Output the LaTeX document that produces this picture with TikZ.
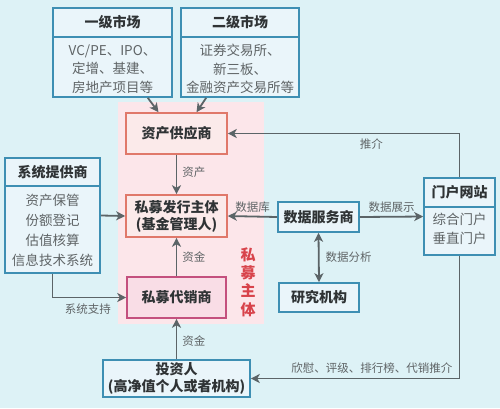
\documentclass[tikz,border=0pt]{standalone}
\usepackage{fontspec}
\setmainfont{Noto Sans CJK SC}
\usetikzlibrary{arrows.meta,calc}
\definecolor{bg}{HTML}{DDF2F6}
\definecolor{pinkbg}{HTML}{FCE6EA}
\definecolor{blueb}{HTML}{3E8FB3}
\definecolor{bluef}{HTML}{EAF5FA}
\definecolor{orangeb}{HTML}{E0786A}
\definecolor{orangef}{HTML}{FBEAEA}
\definecolor{magb}{HTML}{C4507E}
\definecolor{magf}{HTML}{F9DDE6}
\definecolor{arr}{HTML}{5B6467}
\definecolor{txt}{HTML}{2F3335}
\definecolor{txtl}{HTML}{5F6466}
\definecolor{redt}{HTML}{D8434B}
\begin{document}
\begin{tikzpicture}[x=1pt,y=-1pt,
  bbox/.style={draw=blueb, fill=bluef, line width=1.6pt, inner sep=0pt},
  obox/.style={draw=orangeb, fill=orangef, line width=1.6pt, inner sep=0pt, text=txt, font=\fontsize{14}{17}\selectfont\bfseries, align=center},
  mbox/.style={draw=magb, fill=magf, line width=1.6pt, inner sep=0pt, text=txt, font=\fontsize{14}{17}\selectfont\bfseries, align=center},
  sbox/.style={bbox, text=txt, font=\fontsize{14}{17}\selectfont\bfseries, align=center},
  hdr/.style={text=txt, font=\fontsize{14}{17}\selectfont\bfseries, inner sep=0pt},
  bodytxt/.style={text=txtl, font=\fontsize{13.5}{18.5}\selectfont, align=center, inner sep=0pt},
  lbl/.style={text=txtl, font=\fontsize{11.5}{14}\selectfont, inner sep=0pt},
  divline/.style={draw=blueb, line width=1.6pt},
  conn/.style={draw=arr, line width=1.8pt, -{Stealth[length=9pt,width=9pt,inset=2.5pt]}},
  conn2/.style={draw=arr, line width=1.8pt, {Stealth[length=9pt,width=9pt,inset=2.5pt]}-{Stealth[length=9pt,width=9pt,inset=2.5pt]}}
]
\useasboundingbox (0,0) rectangle (500,408);
\fill[bg] (0,0) rectangle (500,408);
\fill[pinkbg] (118,102) rectangle (264,324);

% markets
\node[bbox, minimum width=119pt, minimum height=89pt] (yiji) at (112.5,52.5) {};
\draw[divline] (yiji.west |- 0,37) -- (yiji.east |- 0,37);
\node[hdr] (yijiT) at (112.5,22) {一级市场};
\node[bodytxt] (yijiB) at (112.5,69) {VC/PE、IPO、\\定增、基建、\\房地产项目等};

\node[bbox, minimum width=118pt, minimum height=89pt] (erji) at (240,52.5) {};
\draw[divline] (erji.west |- 0,37) -- (erji.east |- 0,37);
\node[hdr] (erjiT) at (240,22) {二级市场};
\node[bodytxt] (erjiB) at (240,69) {证券交易所、\\新三板、\\金融资产交易所等};

% main column
\node[obox, minimum width=101pt, minimum height=41pt] (zichan) at (176.5,133.5) {资产供应商};
\node[obox, minimum width=101pt, minimum height=42pt] (faxing) at (176.5,216) {私募发行主体\\(基金管理人)};
\node[mbox, minimum width=99pt, minimum height=41pt] (daixiao) at (176.5,297.5) {私募代销商};
\node[sbox, minimum width=147pt, minimum height=37pt] (touzi) at (176.5,378.5) {投资人\\(高净值个人或者机构)};

\node[text=redt, font=\fontsize{15}{18.3}\selectfont\bfseries, align=center, inner sep=0pt] (simu) at (248,282) {私\\募\\主\\体};

% system provider
\node[bbox, minimum width=95pt, minimum height=115pt] (xitong) at (52.5,215.5) {};
\draw[divline] (xitong.west |- 0,186) -- (xitong.east |- 0,186);
\node[hdr] (xitongT) at (52.5,172) {系统提供商};
\node[bodytxt, font=\fontsize{13.5}{20}\selectfont] (xitongB) at (52.5,230) {资产保管\\份额登记\\估值核算\\信息技术系统};

% data
\node[sbox, minimum width=81pt, minimum height=30pt] (shuju) at (318.5,217) {数据服务商};
\node[sbox, minimum width=80pt, minimum height=29pt] (yanjiu) at (319,297.5) {研究机构};

% portal
\node[bbox, minimum width=71pt, minimum height=77pt] (menhu) at (459.5,216.5) {};
\draw[divline] (menhu.west |- 0,207) -- (menhu.east |- 0,207);
\node[hdr] (menhuT) at (459.5,192) {门户网站};
\node[bodytxt] (menhuB) at (459.5,229) {综合门户\\垂直门户};

% connectors
\draw[conn] ([xshift=-25pt]yiji.south east) -- ([xshift=-18pt]zichan.north);
\draw[conn] ([xshift=26pt]erji.south west) -- ([xshift=20pt]zichan.north);
\draw[conn] (zichan.south) -- node[lbl, right=5pt, pos=0.45] (lzc) {资产} (faxing.north);
\draw[conn] (daixiao.north) -- node[lbl, right=5pt, pos=0.5] (lzj1) {资金} (faxing.south);
\draw[conn] (touzi.north) -- node[lbl, right=5pt, pos=0.45] (lzj2) {资金} (daixiao.south);
\draw[conn] (xitong.east) -- (faxing.west);
\draw[conn] (xitong.south) |- node[lbl, pos=0.74, below=5pt] (lxt) {系统支持} (daixiao.west);
\draw[conn] (shuju.west) -- node[lbl, above=3pt] (lsjk) {数据库} (faxing.east);
\draw[conn] (shuju.east) -- node[lbl, above=3pt] (lsjzs) {数据展示} (menhu.west);
\draw[conn2] (shuju.south) -- node[lbl, right=6pt, pos=0.5] (lsjfx) {数据分析} (yanjiu.north);
\draw[conn] (menhu.north) |- node[lbl, pos=0.69, below=4pt] (ltj) {推介} (zichan.east);
\draw[conn] (menhu.south) |- node[lbl, pos=0.71, above=4pt] (lpj) {欣慰、评级、排行榜、代销推介} (touzi.east);
\end{tikzpicture}
\end{document}
